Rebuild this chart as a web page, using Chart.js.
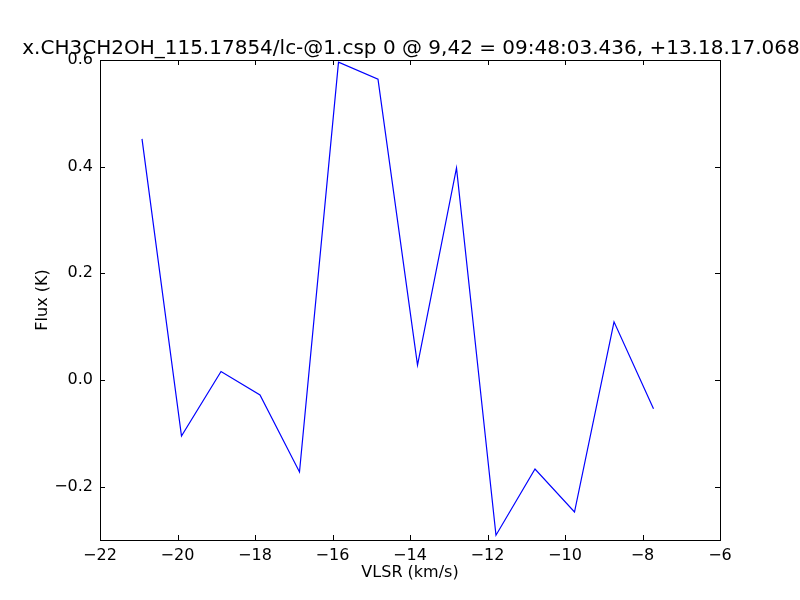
<!DOCTYPE html>
<html>
<head>
<meta charset="utf-8">
<script src="https://cdn.jsdelivr.net/npm/chart.js@4"></script>
<style>
  html, body { margin: 0; padding: 0; background: #fff; }
  #wrap { width: 800px; height: 600px; }
</style>
</head>
<body>
<div id="wrap"><canvas id="specChart" width="800" height="600"></canvas></div>
<script>
// --- datos ---
const velocities = [-20.916, -19.897, -18.877, -17.871, -16.852, -15.845, -14.826,
                    -13.806, -12.800, -11.781, -10.774, -9.755, -8.735, -7.716];
const fluxValues = [0.452, -0.105, 0.016, -0.028, -0.1725, 0.596, 0.564,
                    0.028, 0.3975, -0.291, -0.167, -0.2475, 0.109, -0.054];
const xTicks = [-22, -20, -18, -16, -14, -12, -10, -8, -6];
const yTicks = [-0.2, 0.0, 0.2, 0.4, 0.6];

const titleText = 'x.CH3CH2OH_115.17854/lc-@1.csp 0 @ 9,42 = 09:48:03.436, +13.18.17.068';
const xLabel = 'VLSR (km/s)';
const yLabel = 'Flux (K)';

const FONT = '"DejaVu Sans", sans-serif';
const TICK_LEN = 5;

function fmt(v, digits) {
    const s = Math.abs(v).toFixed(digits);
    return (v < 0 ? '\u2212' : '') + s;
}

// marco, ticks hacia dentro, titulo y etiquetas de ejes
const framePlugin = {
    id: 'frame',
    afterDraw(chart) {
        const { ctx, chartArea: a, scales } = chart;
        ctx.save();
        ctx.strokeStyle = '#000';
        ctx.lineWidth = 1;
        ctx.strokeRect(Math.round(a.left) + 0.5, Math.round(a.top) + 0.5,
                       Math.round(a.right - a.left), Math.round(a.bottom - a.top));

        ctx.beginPath();
        xTicks.forEach(v => {
            const px = Math.round(scales.x.getPixelForValue(v)) + 0.5;
            ctx.moveTo(px, a.bottom); ctx.lineTo(px, a.bottom - TICK_LEN);
            ctx.moveTo(px, a.top); ctx.lineTo(px, a.top + TICK_LEN);
        });
        yTicks.forEach(v => {
            const py = Math.round(scales.y.getPixelForValue(v)) + 0.5;
            ctx.moveTo(a.left, py); ctx.lineTo(a.left + TICK_LEN, py);
            ctx.moveTo(a.right, py); ctx.lineTo(a.right - TICK_LEN, py);
        });
        ctx.stroke();

        const cx = (a.left + a.right) / 2;
        ctx.fillStyle = '#000';
        ctx.textAlign = 'center';
        ctx.textBaseline = 'alphabetic';
        ctx.font = '20px ' + FONT;
        ctx.fillText(titleText, cx + 1, a.top - 6);

        ctx.font = '16px ' + FONT;
        ctx.fillText(xLabel, cx, 577);

        ctx.translate(47, (a.top + a.bottom) / 2);
        ctx.rotate(-Math.PI / 2);
        ctx.fillText(yLabel, 0, 0);
        ctx.restore();
    }
};

const ctx = document.getElementById('specChart').getContext('2d');

const chart = new Chart(ctx, {
    type: 'line',
    data: {
        datasets: [{
            data: velocities.map((v, i) => ({ x: v, y: fluxValues[i] })),
            borderColor: '#0000ff',
            borderWidth: 1.2,
            pointRadius: 0,
            tension: 0,
            fill: false
        }]
    },
    options: {
        responsive: false,
        animation: false,
        devicePixelRatio: 1,
        layout: { padding: { top: 60, right: 80, left: 0, bottom: 0 } },
        plugins: {
            legend: { display: false },
            title: { display: false },
            tooltip: { enabled: false }
        },
        scales: {
            x: {
                type: 'linear',
                min: -22,
                max: -6,
                afterBuildTicks: s => { s.ticks = xTicks.map(v => ({ value: v })); },
                afterFit: s => { s.height = 60; },
                grid: { display: false, drawTicks: false },
                border: { display: false },
                ticks: {
                    color: '#000',
                    font: { family: FONT, size: 16 },
                    padding: 6,
                    maxRotation: 0,
                    autoSkip: false,
                    callback: v => fmt(v, 0)
                }
            },
            y: {
                type: 'linear',
                min: -0.3,
                max: 0.6,
                afterBuildTicks: s => { s.ticks = yTicks.map(v => ({ value: v })); },
                afterFit: s => { s.width = 100; },
                grid: { display: false, drawTicks: false },
                border: { display: false },
                ticks: {
                    color: '#000',
                    font: { family: FONT, size: 16 },
                    padding: 7,
                    autoSkip: false,
                    callback: v => fmt(v, 1)
                }
            }
        }
    },
    plugins: [framePlugin]
});
</script>
</body>
</html>
